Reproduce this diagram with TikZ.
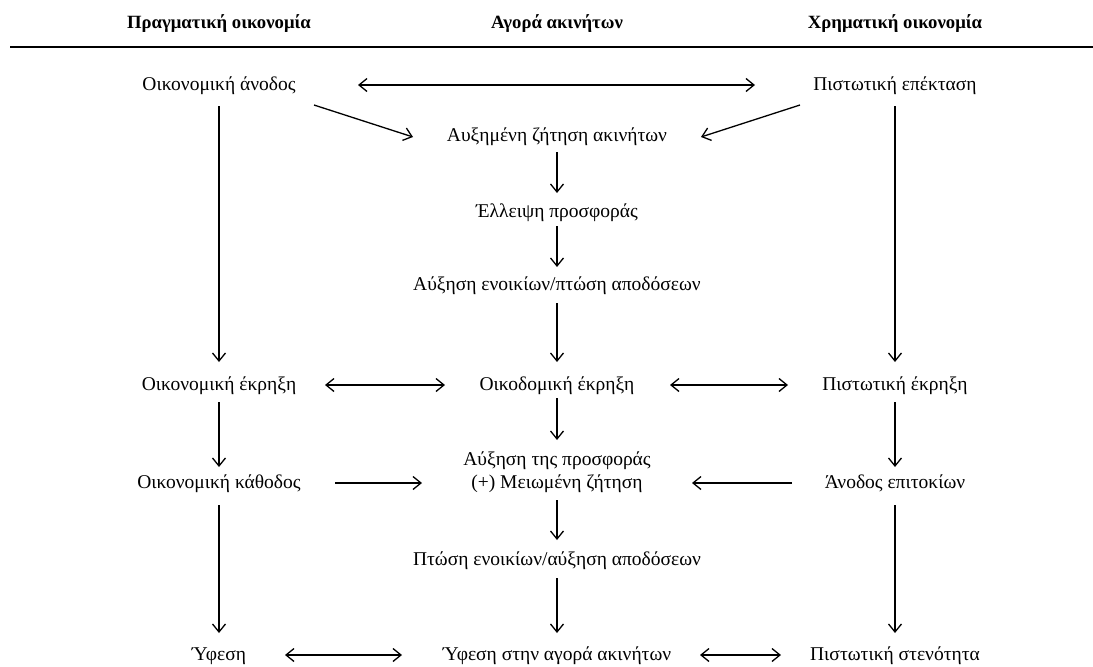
\documentclass[tikz,border=0pt]{standalone}
\usepackage{fontspec}
\setmainfont{Liberation Serif}
\usetikzlibrary{arrows.meta,calc}
\begin{document}
\begin{tikzpicture}[x=1pt,y=-1pt,
  lbl/.style={inner sep=0pt,font=\fontsize{19.5}{23}\selectfont,text height=15pt,text depth=4pt},
  hdr/.style={inner sep=0pt,font=\fontsize{18.7}{22}\selectfont\bfseries,text height=14pt,text depth=4pt},
  arr/.style={line width=1.3pt,-{Straight Barb[length=8pt,width=13pt]}},
  darr/.style={line width=1.3pt,{Straight Barb[length=8pt,width=13pt]}-{Straight Barb[length=8pt,width=13pt]}}]
\useasboundingbox (0,0) rectangle (1093,667);
% headers
\node[hdr] (h1) at (219,23) {Πραγματική οικονομία};
\node[hdr] (h2) at (557,23) {Αγορά ακινήτων};
\node[hdr] (h3) at (895,23) {Χρηματική οικονομία};
\coordinate (rl) at (10,47);
\coordinate (rr) at (1093,47);
\draw[line width=1.8pt] (rl) -- (rr);
% nodes
\node[lbl] (a1) at (219,85) {Οικονομική άνοδος};
\node[lbl] (c1) at (895,85) {Πιστωτική επέκταση};
\node[lbl] (b1) at (557,136) {Αυξημένη ζήτηση ακινήτων};
\node[lbl] (b2) at (557,212) {Έλλειψη προσφοράς};
\node[lbl] (bR) at (557,285) {Αύξηση ενοικίων/πτώση αποδόσεων};
\node[lbl] (a3) at (219,385) {Οικονομική έκρηξη};
\node[lbl] (b3) at (557,385) {Οικοδομική έκρηξη};
\node[lbl] (c3) at (895,385) {Πιστωτική έκρηξη};
\node[lbl] (a4) at (219,483) {Οικονομική κάθοδος};
\node[lbl,text depth=28pt] (b4) at (557,471.5) {\begin{tabular}[t]{@{}c@{}}Αύξηση της προσφοράς\\(+) Μειωμένη ζήτηση\end{tabular}};
\node[lbl] (c4) at (895,483) {Άνοδος επιτοκίων};
\node[lbl] (b5) at (557,560) {Πτώση ενοικίων/αύξηση αποδόσεων};
\node[lbl] (a6) at (219,655) {Ύφεση};
\node[lbl] (b6) at (557,655) {Ύφεση στην αγορά ακινήτων};
\node[lbl] (c6) at (895,655) {Πιστωτική στενότητα};
% connectors
\draw[darr,shorten <=139pt,shorten >=140pt] (a1.center) -- (c1.center);
\draw[arr] ($(a1)+(95,20)$) -- ($(b1)+(-144,1)$);
\draw[arr] ($(c1)+(-95,20)$) -- ($(b1)+(144,1)$);
\draw[arr,shorten <=21pt,shorten >=23pt] (a1.center) -- (a3.center);
\draw[arr,shorten <=21pt,shorten >=23pt] (c1.center) -- (c3.center);
\draw[arr,shorten <=16pt,shorten >=19pt] (b1.center) -- (b2.center);
\draw[arr,shorten <=14pt,shorten >=18pt] (b2.center) -- (bR.center);
\draw[arr,shorten <=18pt,shorten >=23pt] (bR.center) -- (b3.center);
\draw[darr,shorten <=106pt,shorten >=112pt] (a3.center) -- (b3.center);
\draw[darr,shorten <=113pt,shorten >=107pt] (b3.center) -- (c3.center);
\draw[arr,shorten <=17pt,shorten >=16pt] (a3.center) -- (a4.center);
\draw[arr,shorten <=13pt,shorten >=31.5pt] (b3.center) -- (b4.center);
\draw[arr,shorten <=17pt,shorten >=16pt] (c3.center) -- (c4.center);
\draw[arr,shorten <=116pt,shorten >=135pt] (a4.center) -- (a4.center -| b4.center);
\draw[arr,shorten <=103pt,shorten >=135pt] (c4.center) -- (c4.center -| b4.center);
\draw[arr,shorten <=28.5pt,shorten >=20pt] (b4.center) -- (b5.center);
\draw[arr,shorten <=22pt,shorten >=22pt] (a4.center) -- (a6.center);
\draw[arr,shorten <=22pt,shorten >=22pt] (c4.center) -- (c6.center);
\draw[arr,shorten <=18pt,shorten >=22pt] (b5.center) -- (b6.center);
\draw[darr,shorten <=66pt,shorten >=155pt] (a6.center) -- (b6.center);
\draw[darr,shorten <=143pt,shorten >=114pt] (b6.center) -- (c6.center);
\end{tikzpicture}
\end{document}
